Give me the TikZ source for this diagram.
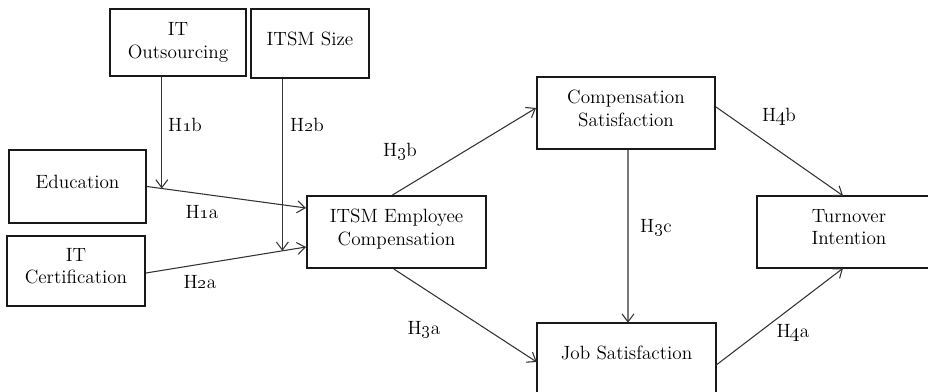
\documentclass[tikz,border=0pt]{standalone}
\usetikzlibrary{arrows.meta,calc}
\newcommand{\osn}[1]{\oldstylenums{#1}}
\tikzset{
  txt/.style={font=\fontsize{14.4}{17}\selectfont},
  boxline/.style={draw=black!90, line width=1.5pt, line join=miter},
  box/.style={txt, boxline, rectangle, align=center, inner sep=2pt},
  openbox/.style={txt, draw=none, rectangle, align=center, inner sep=2pt},
  lift/.style={execute at end node={\rule[-7.5pt]{0pt}{0pt}}},
  conn/.style={draw=black!80, line width=0.8pt, -{Straight Barb[length=6pt,width=9pt,line width=0.8pt]}},
  lbl/.style={txt, inner sep=1pt}
}
\begin{document}
\begin{tikzpicture}[x=0.75pt, y=-0.75pt]
\useasboundingbox (0,0) rectangle (928,392);
\clip (0,0) rectangle (928,392);
% boxes
\node[box, minimum width=102pt, minimum height=50.25pt] (out) at (178,42.5) {IT\\Outsourcing};
\node[box, lift, minimum width=88.5pt, minimum height=51.75pt] (size) at (310,43.5) {ITSM Size};
\node[box, lift, minimum width=102.75pt, minimum height=54.75pt] (edu) at (77.5,186.5) {Education};
\node[box, lift, minimum width=103.5pt, minimum height=52.5pt] (cert) at (76,271) {IT\\Certification};
\node[box, lift, minimum width=134.25pt, minimum height=54pt] (itsm) at (396.5,232) {ITSM Employee\\Compensation};
\node[box, lift, minimum width=133.5pt, minimum height=54pt] (comp) at (626,113) {Compensation\\Satisfaction};
\node[openbox, minimum width=134.25pt, minimum height=54pt, text height=10pt, text depth=9pt] (job) at (626.5,359) {Job Satisfaction};
\node[openbox, lift, minimum width=138pt, minimum height=54pt] (turn) at (849,232) {Turnover\\Intention};
% the two boxes cut by the picture's edge
\draw[boxline] (job.south west) -- (job.north west) -- (job.north east) -- (job.south east);
\draw[boxline] (turn.north east) -- (turn.north west) -- (turn.south west) -- (turn.south east);
% moderation points
\coordinate (m1) at ($(edu.east)!0.093!([yshift=-9.75pt]itsm.north west)$);
\coordinate (m2) at ($([yshift=-1.5pt]cert.east)!0.852!([yshift=-39pt]itsm.north west)$);
% connectors
\draw[conn] (edu.east) -- ([yshift=-9.75pt]itsm.north west);
\draw[conn] ([yshift=-1.5pt]cert.east) -- ([yshift=-39pt]itsm.north west);
\draw[conn] (out.south -| m1) -- (m1);
\draw[conn] (size.south -| m2) -- (m2);
\draw[conn] ([xshift=-3pt]itsm.north) -- ([yshift=3.75pt]comp.west);
\draw[conn] ([yshift=4.5pt]comp.east) -- ([xshift=-4.5pt]turn.north);
\draw[conn] ([xshift=1.5pt]comp.south) -- ([xshift=1.1pt]job.north);
\draw[conn] ([xshift=-2pt]itsm.south) -- ([yshift=-2.25pt]job.west);
\draw[conn] ([yshift=-4.5pt]job.east) -- ([xshift=-4.5pt]turn.south);
% labels
\node[lbl] (l1b) at (185,125) {H\osn{1}b};
\node[lbl] (l2b) at (307,125) {H\osn{2}b};
\node[lbl] (l1a) at (202,212) {H\osn{1}a};
\node[lbl] (l2a) at (200,282) {H\osn{2}a};
\node[lbl] (l3b) at (400,152) {H\osn{3}b};
\node[lbl] (l4b) at (779,117) {H\osn{4}b};
\node[lbl] (l3c) at (656,228) {H\osn{3}c};
\node[lbl] (l3a) at (424,330) {H\osn{3}a};
\node[lbl] (l4a) at (793,333) {H\osn{4}a};
\end{tikzpicture}
\end{document}
